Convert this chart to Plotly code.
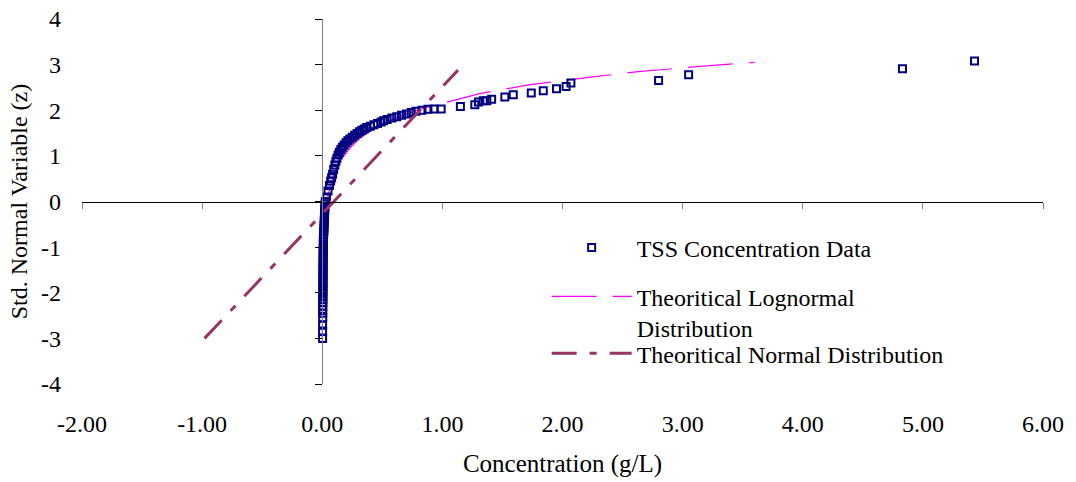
import plotly.graph_objects as go

# ---------------- data ----------------
tss_conc = [0.003, 0.003, 0.003, 0.004, 0.004, 0.004, 0.004, 0.005, 0.005, 0.005,
            0.005, 0.005, 0.006, 0.006, 0.006, 0.006, 0.006, 0.006, 0.007, 0.007,
            0.007, 0.007, 0.007, 0.008, 0.008, 0.008, 0.008, 0.009, 0.009, 0.009,
            0.010, 0.010, 0.012, 0.013, 0.014, 0.015, 0.016, 0.017, 0.018, 0.019,
            0.020, 0.021, 0.022, 0.024, 0.026,
            0.035, 0.048, 0.060, 0.070, 0.078, 0.086, 0.095, 0.105, 0.114, 0.122,
            0.132, 0.142, 0.155, 0.168, 0.182, 0.198, 0.213, 0.230, 0.25, 0.27,
            0.29, 0.31, 0.33, 0.35, 0.37, 0.40, 0.43, 0.46, 0.49, 0.51,
            0.54, 0.58, 0.62, 0.66, 0.70, 0.74, 0.78, 0.83, 0.88, 0.93, 0.99,
            1.15, 1.27, 1.30, 1.34, 1.37, 1.41, 1.52, 1.59, 1.74, 1.84, 1.95,
            2.03, 2.07, 2.80, 3.05, 4.83, 5.43]
tss_z = [-3.00, -2.84, -2.71, -2.55, -2.45, -2.36, -2.29, -2.22, -2.15, -2.09,
         -2.03, -1.97, -1.91, -1.85, -1.79, -1.73, -1.67, -1.61, -1.55, -1.49,
         -1.43, -1.37, -1.31, -1.25, -1.19, -1.13, -1.07, -1.01, -0.95, -0.89,
         -0.83, -0.77, -0.71, -0.65, -0.59, -0.53, -0.47, -0.41, -0.35, -0.29,
         -0.23, -0.17, -0.11, -0.05, 0.00,
         0.10, 0.23, 0.35, 0.45, 0.52, 0.60, 0.70, 0.80, 0.88, 0.95,
         1.02, 1.08, 1.14, 1.19, 1.24, 1.29, 1.33, 1.37, 1.41, 1.45,
         1.49, 1.53, 1.56, 1.59, 1.62, 1.65, 1.68, 1.71, 1.74, 1.77,
         1.80, 1.83, 1.86, 1.89, 1.92, 1.95, 1.98, 2.00, 2.02, 2.03, 2.03,
         2.08, 2.12, 2.18, 2.21, 2.21, 2.24, 2.29, 2.34, 2.38, 2.43, 2.47,
         2.52, 2.60, 2.65, 2.78, 2.91, 3.08]

lognorm_conc = [0.0005, 0.0015, 0.004, 0.010, 0.020, 0.040, 0.065, 0.10, 0.14, 0.175,
                0.24, 0.32, 0.42, 0.55, 0.70, 0.85, 1.05, 1.32, 1.73, 2.04,
                2.25, 2.61, 3.09, 3.60]
lognorm_z = [-3.00, -2.30, -1.60, -1.00, -0.50, 0.00, 0.33, 0.63, 0.86, 0.98,
             1.20, 1.40, 1.58, 1.76, 1.92, 2.05, 2.19, 2.37, 2.56, 2.67,
             2.73, 2.84, 2.95, 3.05]

normal_conc = [-0.98, 1.13]
normal_z = [-3.00, 2.88]

x_tickvals = [-2, -1, 0, 1, 2, 3, 4, 5, 6]
x_ticktext = ["-2.00", "-1.00", "0.00", "1.00", "2.00", "3.00", "4.00", "5.00", "6.00"]
y_tickvals = [-4, -3, -2, -1, 0, 1, 2, 3, 4]
y_ticktext = ["-4", "-3", "-2", "-1", "0", "1", "2", "3", "4"]
x_range = [-2, 6]
y_range = [-4, 4]

series_names = ["TSS Concentration Data",
                "Theoritical Lognormal<br>Distribution",
                "Theoritical Normal Distribution"]

FONT = "Liberation Serif, Times New Roman, serif"
FS = 24

fig = go.Figure()

fig.add_trace(go.Scatter(
    x=lognorm_conc, y=lognorm_z, mode="lines", name=series_names[1],
    line=dict(color="#FF00FF", width=1.2, dash="45px,16px"),
    legend="legend2"))

fig.add_trace(go.Scatter(
    x=tss_conc, y=tss_z, mode="markers", name=series_names[0],
    marker=dict(symbol="square-open", size=7, color="#000080",
                line=dict(width=2, color="#000080")),
    legend="legend"))

fig.add_trace(go.Scatter(
    x=normal_conc, y=normal_z, mode="lines", name=series_names[2],
    line=dict(color="#993366", width=3, dash="25px,13px,7px,13px"),
    legend="legend3"))

# helper trace so the crossing axes (drawn at the zero lines) exist
fig.add_trace(go.Scatter(x=[None], y=[None], xaxis="x2", yaxis="y2",
                         showlegend=False, hoverinfo="skip"))

legend_common = dict(font=dict(family=FONT, size=FS, color="black"),
                     bgcolor="rgba(0,0,0,0)", itemwidth=80,
                     xanchor="left", yanchor="middle", valign="top")

fig.update_layout(
    width=1076, height=482,
    margin=dict(l=82, r=33, t=19, b=98, autoexpand=False),
    paper_bgcolor="white", plot_bgcolor="white",
    font=dict(family=FONT, size=FS, color="black"),
    legend=dict(x=0.4835, y=0.3726, **legend_common),
    legend2=dict(x=0.4835, y=0.1965, **legend_common),
    legend3=dict(x=0.4835, y=0.083, **legend_common),
    xaxis=dict(range=x_range, tickmode="array", tickvals=x_tickvals,
               ticktext=x_ticktext, showgrid=False, automargin=False,
               zeroline=False, showline=False, ticks="",
               ticklabelstandoff=23,
               title=dict(text="Concentration (g/L)", standoff=18,
                          font=dict(family=FONT, size=25))),
    yaxis=dict(range=y_range, tickmode="array", tickvals=y_tickvals,
               ticktext=y_ticktext, showgrid=False, zeroline=False,
               automargin=False, showline=False, ticks="",
               ticklabelstandoff=20,
               title=dict(text="Std. Normal Variable (z)", standoff=6,
                          font=dict(family=FONT, size=FS))),
    xaxis2=dict(range=x_range, tickmode="array", tickvals=x_tickvals,
                overlaying="x", anchor="free", automargin=False,
                position=0.5, side="bottom", showline=True,
                linecolor="black", linewidth=1.3, ticks="outside",
                ticklen=6, tickcolor="#808080", tickwidth=1.3,
                showticklabels=False, showgrid=False, zeroline=False),
    yaxis2=dict(range=y_range, tickmode="array", tickvals=y_tickvals,
                overlaying="y", anchor="free", automargin=False,
                position=0.25, side="left", showline=True,
                linecolor="#808080", linewidth=1.3, ticks="outside",
                ticklen=7, tickcolor="black", tickwidth=1.3,
                showticklabels=False, showgrid=False, zeroline=False),
)

fig.write_html("out.html")
